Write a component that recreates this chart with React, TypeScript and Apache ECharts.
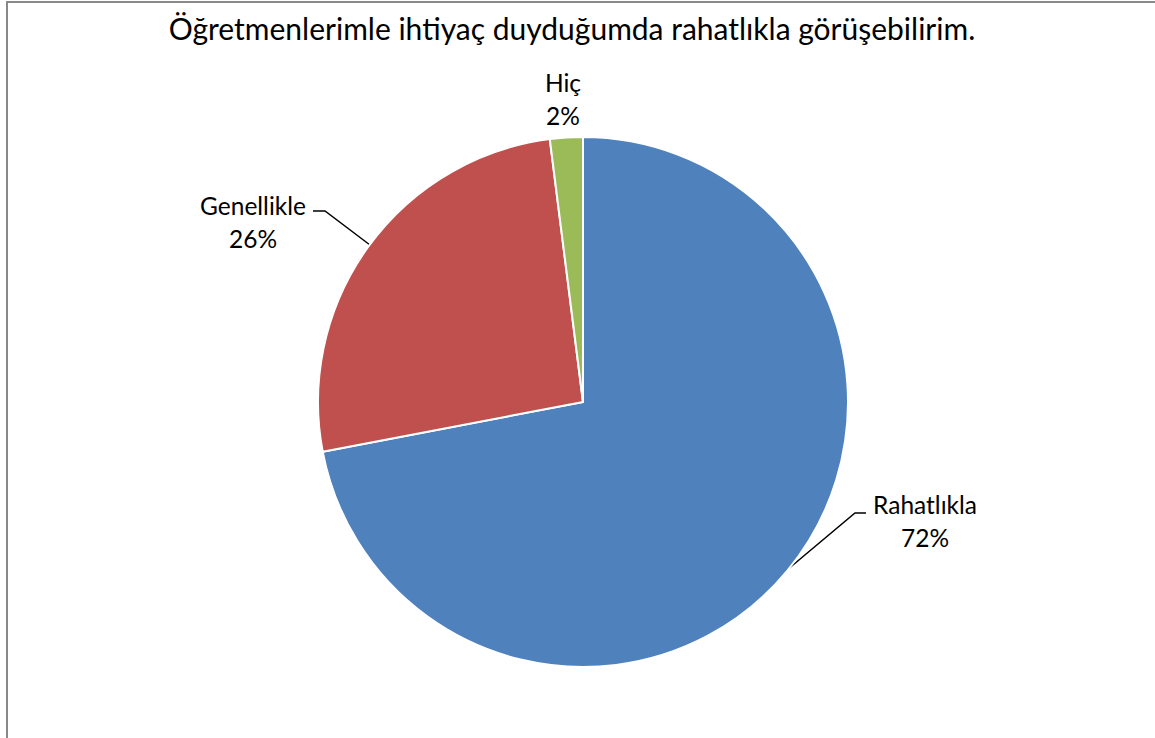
import React, { useEffect, useRef } from "react";
import * as echarts from "echarts";

const titleText = "Öğretmenlerimle ihtiyaç duyduğumda rahatlıkla görüşebilirim.";
const categories = ["Rahatlıkla", "Genellikle", "Hiç"];
const values = [72, 26, 2];
const colors = ["#4F81BD", "#C0504D", "#9BBB59"];

export default function App() {
  const ref = useRef<HTMLDivElement>(null);
  useEffect(() => {
    document.body.style.margin = "0";
    const chart = echarts.init(ref.current!, null, { renderer: "svg" });
    const labelPos = [
      { x: 925, y: 521, line: [[787, 570], [855, 513], [866, 513]] },
      { x: 253, y: 222, line: [[370, 245], [325, 211], [313, 211]] },
      { x: 563, y: 99, line: null },
    ];
    chart.setOption({
      animation: false,
      backgroundColor: "#ffffff",
      title: {
        text: titleText,
        left: 567,
        top: 8,
        textAlign: "center",
        textStyle: { fontFamily: "Lato", fontSize: 30, fontWeight: "normal", color: "#000" },
      },
      graphic: [
        {
          type: "rect",
          shape: { x: 7, y: 2, width: 1300, height: 900 },
          style: { fill: "none", stroke: "#898989", lineWidth: 2 },
          silent: true,
        },
      ],
      series: [
        {
          type: "pie",
          center: [583, 402],
          radius: 265,
          startAngle: 90,
          clockwise: true,
          itemStyle: { borderColor: "#fff", borderWidth: 2 },
          label: {
            show: true,
            formatter: "{b}\n{d}%",
            fontFamily: "Lato",
            fontSize: 24.5,
            lineHeight: 33,
            color: "#000",
            align: "center",
          },
          labelLine: { show: true, lineStyle: { color: "#000", width: 1.5 } },
          labelLayout: (p: any) => {
            const lp = labelPos[p.dataIndex];
            const r: any = { x: lp.x, y: lp.y, align: "center", verticalAlign: "middle" };
            if (lp.line) r.labelLinePoints = lp.line;
            return r;
          },
          data: categories.map((c, i) => ({
            name: c,
            value: values[i],
            itemStyle: { color: colors[i] },
            labelLine: { show: i !== 2 },
          })),
        },
      ],
    });
    return () => chart.dispose();
  }, []);
  return <div ref={ref} style={{ width: 1155, height: 738 }} />;
}
